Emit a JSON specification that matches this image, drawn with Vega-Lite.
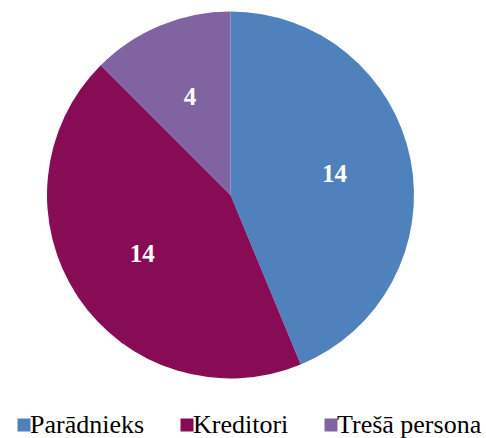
{
  "$schema": "https://vega.github.io/schema/vega-lite/v6.json",
  "width": 461,
  "height": 390,
  "padding": {"left": 0, "top": 0, "right": 25, "bottom": 48},
  "autosize": {"type": "none"},
  "background": "white",
  "data": {"values": [
    {"category": "Parādnieks", "value": 14, "order": 1},
    {"category": "Kreditori", "value": 14, "order": 2},
    {"category": "Trešā persona", "value": 4, "order": 3}
  ]},
  "layer": [
    {"mark": {"type": "arc", "radius": 183.5, "stroke": null},
     "encoding": {
      "theta": {"field": "value", "type": "quantitative", "stack": true},
      "order": {"field": "order", "type": "quantitative"},
      "color": {
        "field": "category", "type": "nominal",
        "sort": ["Parādnieks", "Kreditori", "Trešā persona"],
        "scale": {"domain": ["Parādnieks", "Kreditori", "Trešā persona"], "range": ["#4F81BD", "#870C55", "#8064A2"]},
        "legend": {
          "title": null, "orient": "none", "direction": "horizontal",
          "legendX": 11, "legendY": 412, "padding": 0,
          "symbolType": "square", "symbolSize": 169, "symbolStrokeWidth": 0,
          "labelFont": "Liberation Serif", "labelFontSize": 26, "labelColor": "#000000",
          "labelOffset": -7, "columnPadding": 29, "labelLimit": 300
        }
      }
    }},
    {"mark": {"type": "text", "radius": 106, "font": "Liberation Serif", "fontSize": 25, "fontWeight": "bold", "color": "white", "baseline": "middle", "align": "center"},
     "encoding": {
      "theta": {"field": "value", "type": "quantitative", "stack": true},
      "order": {"field": "order", "type": "quantitative"},
      "text": {"field": "value", "type": "quantitative"}}}
  ]
}
